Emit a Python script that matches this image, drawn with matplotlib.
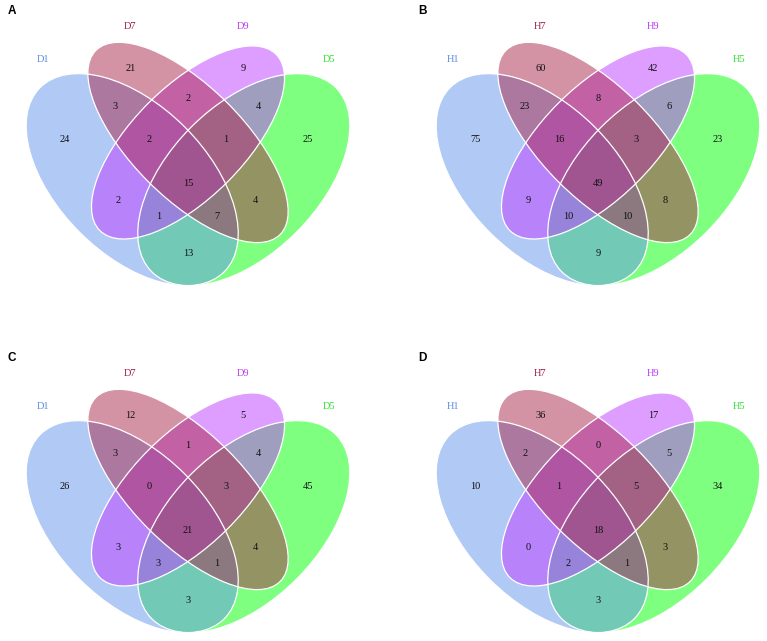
import matplotlib
matplotlib.use("Agg")
import matplotlib.pyplot as plt
from matplotlib.patches import Ellipse

# ---- data ----
panel_letters = ["A", "B", "C", "D"]
set_names = [
    ["D1", "D7", "D9", "D5"],
    ["H1", "H7", "H9", "H5"],
    ["D1", "D7", "D9", "D5"],
    ["H1", "H7", "H9", "H5"],
]
# region keys: which sets (1=first/blue, 2=second/red, 3=third/violet, 4=fourth/green)
region_keys = ["1", "2", "3", "4", "12", "23", "34", "123", "234",
               "13", "1234", "24", "134", "124", "14"]
counts_A = [24, 21, 9, 25, 3, 2, 4, 2, 1, 2, 15, 4, 1, 7, 13]
counts_B = [75, 60, 42, 23, 23, 8, 6, 16, 3, 9, 49, 8, 10, 10, 9]
counts_C = [26, 12, 5, 45, 3, 1, 4, 0, 3, 3, 21, 4, 3, 1, 3]
counts_D = [10, 36, 17, 34, 2, 0, 5, 1, 5, 0, 18, 3, 2, 1, 3]
all_counts = [counts_A, counts_B, counts_C, counts_D]

set_colors = ["#6495ED", "#A8284A", "#BF3EFF", "#00FF00"]
label_colors = ["#5B8BE0", "#9E1C44", "#B83CF0", "#30E030"]
draw_order = [3, 0, 2, 1]  # green bottom, then blue, violet, red on top

# ---- layout (VennDiagram quad geometry, unit coords) ----
ellipses = [  # x, y, a, b, rotation
    (0.35, 0.47, 0.35, 0.20, 135),
    (0.50, 0.57, 0.35, 0.15, 135),
    (0.50, 0.57, 0.335, 0.15, 45),
    (0.65, 0.47, 0.35, 0.20, 45),
]
region_pos = {
    "1": (0.17, 0.577), "2": (0.345, 0.77), "3": (0.648, 0.77), "4": (0.823, 0.577),
    "12": (0.304, 0.668), "23": (0.5, 0.687), "34": (0.69, 0.668),
    "123": (0.395, 0.577), "234": (0.602, 0.577),
    "13": (0.312, 0.413), "1234": (0.5, 0.461), "24": (0.68, 0.413),
    "134": (0.42, 0.372), "124": (0.578, 0.372), "14": (0.5, 0.272),
}
cat_pos = [(0.11, 0.794), (0.344, 0.883), (0.648, 0.883), (0.88, 0.794)]

W, H = 767, 641
offsets = [(0, 0), (410, 0), (0, 347), (410, 347)]
PW, PH = 380, 320
S = 372.0

fig = plt.figure(figsize=(W / 100, H / 100), dpi=100)
fig.patch.set_facecolor("white")

serif = ["Liberation Serif", "DejaVu Serif"]

for p in range(4):
    ox, oy = offsets[p]
    ax = fig.add_axes([ox / W, 1 - (oy + PH) / H, PW / W, PH / H])
    ax.set_xlim(-2 / S, (PW - 2) / S)
    ax.set_ylim((354.5 - PH) / S, 354.5 / S)
    ax.set_aspect("equal")
    ax.axis("off")
    for z, i in enumerate(draw_order):
        x, y, a, b, r = ellipses[i]
        ax.add_patch(Ellipse((x, y), 2 * a, 2 * b, angle=r, facecolor=set_colors[i],
                             alpha=0.5, edgecolor="none", zorder=1 + z * 0.01))
    for (x, y, a, b, r) in ellipses:
        ax.add_patch(Ellipse((x, y), 2 * a, 2 * b, angle=r, fill=False,
                             edgecolor="white", lw=0.9, zorder=2))
    for k, v in zip(region_keys, all_counts[p]):
        x, y = region_pos[k]
        ax.text(x, y, str(v), ha="center", va="center", fontsize=7.5,
                family=serif, color="#111111", zorder=3)
    for (x, y), name, c in zip(cat_pos, set_names[p], label_colors):
        ax.text(x, y, name, ha="center", va="center", fontsize=7.5,
                family=serif, color=c, zorder=3)
    ax.text(6 / S, (354.5 - 11) / S, panel_letters[p], ha="left", va="center",
            fontsize=8.5, fontweight="bold",
            family=["Liberation Sans", "DejaVu Sans"], color="black")

fig.savefig("out.png", dpi=100, facecolor="white")
